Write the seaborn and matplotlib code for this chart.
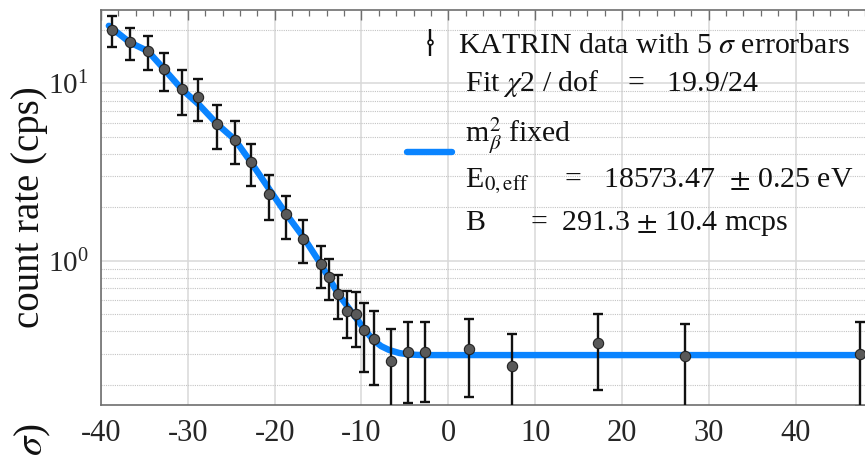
import numpy as np
import pandas as pd
import matplotlib
matplotlib.use("Agg")
import matplotlib.pyplot as plt
import seaborn as sns
from matplotlib.ticker import LogLocator, MultipleLocator, NullFormatter
from matplotlib.container import ErrorbarContainer
from matplotlib.legend_handler import HandlerErrorbar

# ---------------- data ----------------
retarding_energy = [-38.7, -36.7, -34.6, -32.7, -30.7, -28.8, -26.6, -24.6, -22.7,
                    -20.6, -18.7, -16.7, -14.7, -13.7, -12.7, -11.7, -10.6, -9.65,
                    -8.6, -6.57, -4.65, -2.73, 2.34, 7.35, 17.3, 27.3, 47.4]
count_rate = [19.96, 17.0, 15.2, 12.0, 9.25, 8.37, 5.90, 4.81, 3.59,
              2.37, 1.83, 1.33, 0.954, 0.809, 0.649, 0.520, 0.498, 0.407,
              0.360, 0.273, 0.305, 0.305, 0.319, 0.256, 0.343, 0.290, 0.299]
err_5sigma = [3.87, 3.5, 3.35, 2.9, 2.62, 2.24, 1.64, 1.31, 0.96,
              0.67, 0.50, 0.36, 0.255, 0.21, 0.178, 0.152, 0.171, 0.17,
              0.16, 0.139, 0.147, 0.146, 0.148, 0.132, 0.157, 0.15, 0.15]

fit_energy = [-39.1, -36.68, -34.6, -32.72, -30.68, -28.72, -26.61, -24.57, -22.76,
              -20.57, -18.72, -16.61, -14.68, -12.65, -10.61, -9.61, -8.62, -7.73,
              -6.81, -5.65, -4.5, -3.0, 48.0]
fit_rate = [21.1, 17.0, 15.2, 12.0, 9.25, 7.59, 5.89, 4.81, 3.61,
            2.51, 1.85, 1.34, 0.957, 0.647, 0.475, 0.407, 0.357, 0.330,
            0.314, 0.302, 0.296, 0.294, 0.294]

x_ticks = [-40, -30, -20, -10, 0, 10, 20, 30, 40]
y_label = "count rate (cps)"
lower_label_tail = r"$\sigma$)"
data_label = r"KATRIN data with 5 $\sigma$ errorbars"
fit_label = (" Fit $\\chi$2 / dof    =   19.9/24\n"
             " m$_{\\beta}^{2}$ fixed\n"
             " E$_{\\mathrm{0,eff}}$     =   18573.47  $\\pm$ 0.25 eV\n"
             " B      =  291.3 $\\pm$ 10.4 mcps")

# ---------------- style ----------------
sns.set_style("white")
plt.rcParams["font.family"] = ["Liberation Serif", "DejaVu Serif"]
plt.rcParams["mathtext.fontset"] = "stix"
plt.rcParams["axes.unicode_minus"] = False

fig = plt.figure(figsize=(8.65, 4.61), dpi=100)
W, H = 865, 461
ax = fig.add_axes([101 / W, 1 - 405 / H, 1 - 101 / W, (405 - 10) / H])

df_data = pd.DataFrame({"E": retarding_energy, "rate": count_rate, "err": err_5sigma})
df_fit = pd.DataFrame({"E": fit_energy, "rate": fit_rate})

blue = "#0a84ff"
sns.lineplot(data=df_fit, x="E", y="rate", ax=ax, color=blue, lw=4.6,
             sort=False, estimator=None, zorder=2, legend=False)
ax.errorbar(df_data["E"], df_data["rate"], yerr=df_data["err"], fmt="none",
            ecolor="#111111", elinewidth=1.7, capsize=3.8, capthick=1.7, zorder=3)
sns.scatterplot(data=df_data, x="E", y="rate", ax=ax, color="#595959",
                edgecolor="#222222", linewidth=0.8, s=55, zorder=4, legend=False)

ax.set_yscale("log")
ax.set_xlim(-40, 48)
ax.set_ylim(0.1538, 25.9)

ax.set_xticks(x_ticks)
ax.xaxis.set_minor_locator(MultipleLocator(2))
ax.yaxis.set_major_locator(LogLocator(base=10, numticks=10))
ax.yaxis.set_minor_locator(LogLocator(base=10, subs=np.arange(2, 10), numticks=20))
ax.yaxis.set_minor_formatter(NullFormatter())

ax.grid(which="major", color="#d9d9d9", lw=1.1, ls="-")
ax.grid(which="minor", axis="y", color="#c4c4c4", lw=0.8, ls=(0, (1, 1)))
ax.grid(which="minor", axis="x", visible=False)

ax.tick_params(which="both", direction="in", top=True, right=False,
               color="#6e6e6e", labelcolor="#262626")
ax.tick_params(which="major", length=7, width=1.0)
ax.tick_params(which="minor", length=4, width=0.9)
ax.tick_params(axis="x", pad=10, labelsize=22)
ax.tick_params(axis="y", pad=9, labelsize=21)
for s in ["left", "bottom", "top"]:
    ax.spines[s].set_color("#6e6e6e")
    ax.spines[s].set_linewidth(1.2)
ax.spines["right"].set_visible(False)
ax.set_xlabel("")
ax.set_ylabel("")

fig.text(30 / W, 1 - 207 / H, y_label, rotation=90, ha="center", va="center",
         fontsize=28, color="#111111")
fig.text(33 / W, 1 - 423 / H, lower_label_tail, rotation=90, ha="center",
         va="top", fontsize=28, color="#111111")

# legend
proxy = ax.errorbar([], [], yerr=[], fmt="o", ms=3.5, mfc="white", mec="#111111",
                    mew=1.2, ecolor="#111111", elinewidth=1.7, capsize=3.5, capthick=1.7)
fit_line = ax.get_lines()[0]
leg = fig.legend([proxy, fit_line], [data_label, fit_label],
                 loc="upper left", bbox_to_anchor=(407 / W, 1 - 32 / H),
                 frameon=False, fontsize=21.5, handlelength=1.52, handletextpad=0.2,
                 borderpad=0, borderaxespad=0, labelspacing=0.3,
                 handler_map={ErrorbarContainer: HandlerErrorbar(yerr_size=0.45, numpoints=1)})
for t in leg.get_texts():
    t.set_linespacing(1.6)
    t.set_color("#111111")

fig.savefig("out.png", dpi=100, facecolor="white")
